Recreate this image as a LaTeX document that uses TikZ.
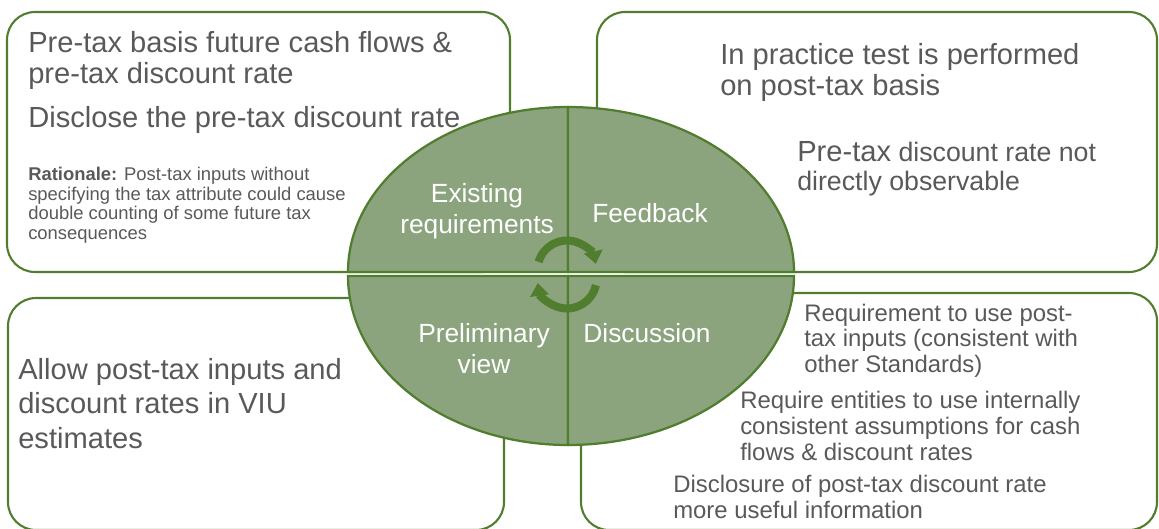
\documentclass[tikz,border=0pt]{standalone}
\usepackage{fontspec}
\setmainfont{Liberation Sans}
\usetikzlibrary{arrows.meta}

\definecolor{leafgreen}{HTML}{507D2E}
\definecolor{sagefill}{HTML}{8CA47E}
\definecolor{txtgray}{HTML}{595959}

\begin{document}
\begin{tikzpicture}[x=0.025cm, y=-0.025cm,
  panel/.style={draw=leafgreen, line width=1.5pt, rounded corners=0.7cm},
  quarter/.style={fill=sagefill, draw=leafgreen, line width=1.6pt},
  cyclearrow/.style={draw=leafgreen, line width=5.7pt, -{Triangle[width=13pt,length=9pt]}},
  bodytext/.style={text=txtgray, align=left, inner sep=0pt, anchor=base west},
  phase/.style={text=white, align=center, inner sep=0pt, anchor=base,
    font=\fontsize{18.7}{21.6}\selectfont}]
  \useasboundingbox (0,0) rectangle (1159,528);

  % four outer panels
  \draw[panel] (7,12) rectangle (510,272);
  \draw[panel] (597,12) rectangle (1157,272);
  \draw[panel] (8,298) rectangle (504,530);
  \draw[panel] (581,293) rectangle (1157,530);

  % split ellipse in the middle
  \coordinate (upmid) at (568,272);
  \coordinate (lowmid) at (568,276);
  \filldraw[quarter] (upmid) -- ++(-220,0) arc[start angle=180, end angle=270, x radius=220, y radius=165] -- cycle;
  \filldraw[quarter] (upmid) -- ++(226,0) arc[start angle=0, end angle=-90, x radius=226, y radius=165] -- cycle;
  \filldraw[quarter] (lowmid) -- ++(-220,0) arc[start angle=180, end angle=90, x radius=220, y radius=169] -- cycle;
  \filldraw[quarter] (lowmid) -- ++(226,0) arc[start angle=0, end angle=90, x radius=226, y radius=169] -- cycle;

  % cycle arrows
  \coordinate (hub) at (567,274);
  \draw[cyclearrow] (hub) ++(0,-4) ++(196:29.5) arc[start angle=196, end angle=348, radius=29.5];
  \draw[cyclearrow] (hub) ++(0,5) ++(12:29.5) arc[start angle=12, end angle=172, radius=29.5];

  % quarter labels (multi-line nodes sit on their last baseline)
  \node[phase] (existing) at (477,233) {Existing\\requirements};
  \node[phase] (feedback) at (650,222) {Feedback};
  \node[phase] (prelim) at (484,373) {Preliminary\\view};
  \node[phase] (discussion) at (647,342) {Discussion};

  % existing requirements
  \node[bodytext, font=\fontsize{20.7}{21.4}\selectfont] (pretax) at (28,83)
    {Pre-tax basis future cash flows \&\\pre-tax discount rate};
  \node[bodytext, font=\fontsize{20.7}{21.4}\selectfont] (disclose) at (28,127)
    {Disclose the pre-tax discount rate};
  \node[bodytext, font=\fontsize{13.1}{13.8}\selectfont] (rationale) at (28,239)
    {\textbf{Rationale:} Post-tax inputs without\\specifying the tax attribute could cause\\double counting of some future tax\\consequences};

  % feedback
  \node[bodytext, font=\fontsize{20.7}{21.4}\selectfont] (practice) at (720,95)
    {In practice test is performed\\on post-tax basis};
  \node[bodytext, font=\fontsize{19}{20}\selectfont] (observe) at (797,190)
    {{\fontsize{20.7}{20}\selectfont Pre-tax} discount rate not\\directly observable};

  % preliminary view
  \node[bodytext, font=\fontsize{20.7}{24.2}\selectfont] (allow) at (18,448)
    {Allow post-tax inputs and\\discount rates in VIU\\estimates};

  % discussion
  \node[bodytext, font=\fontsize{17}{17.8}\selectfont] (postreq) at (804,372)
    {Requirement to use post-\\tax inputs (consistent with\\other Standards)};
  \node[bodytext, font=\fontsize{17}{18.3}\selectfont] (internal) at (740,460)
    {Require entities to use internally\\consistent assumptions for cash\\flows \& discount rates};
  \node[bodytext, font=\fontsize{17}{17.8}\selectfont] (useful) at (673,518)
    {Disclosure of post-tax discount rate\\more useful information};
\end{tikzpicture}
\end{document}
